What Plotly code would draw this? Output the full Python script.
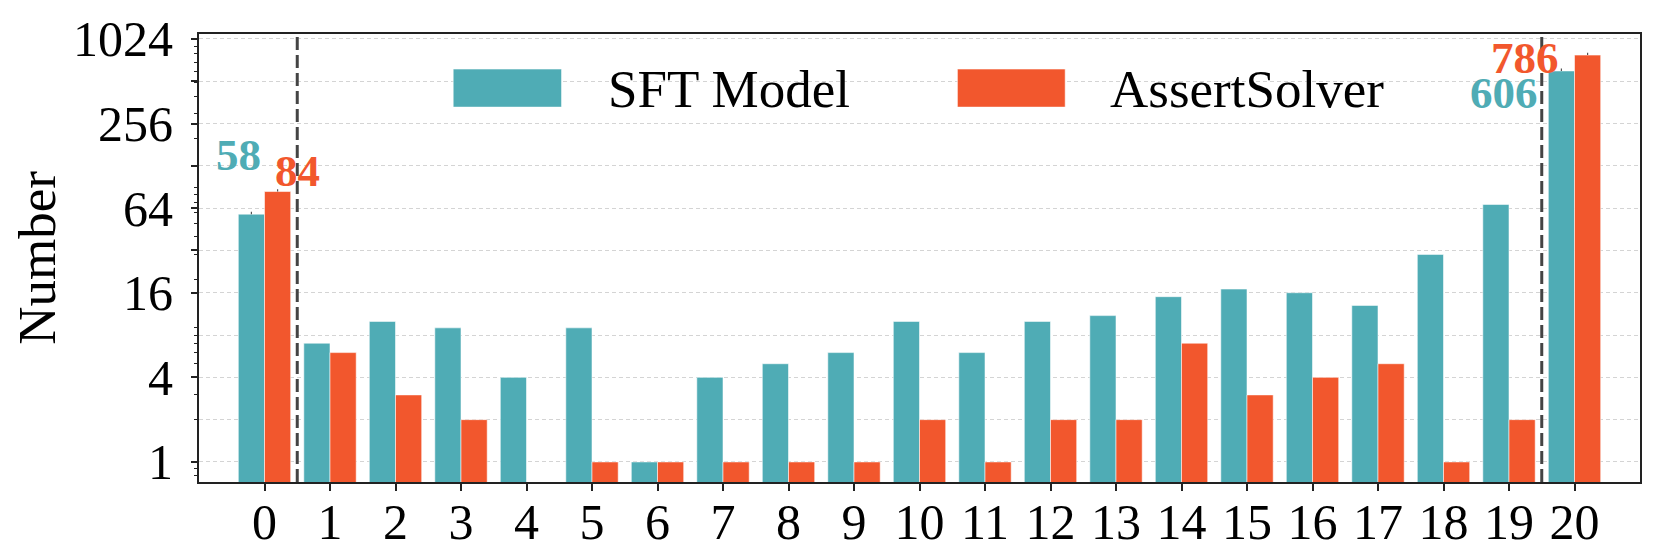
import plotly.graph_objects as go
import math

# ---- data ----
categories = list(range(21))
sft_model = [58, 7, 10, 9, 4, 9, 1, 4, 5, 6, 10, 6, 10, 11, 15, 17, 16, 13, 30, 68, 606]
assert_solver = [84, 6, 3, 2, None, 1, 1, 1, 1, 1, 2, 1, 2, 2, 7, 3, 4, 5, 1, 2, 786]
y_tick_vals = [1, 2, 4, 8, 16, 32, 64, 128, 256, 512, 1024]
y_tick_text = ["1", "", "4", "", "16", "", "64", "", "256", "", "1024"]
separators = [0.5, 19.5]
labelled_idx = [0, 20]
series_names = ["SFT Model", "AssertSolver"]

# ---- style ----
TEAL = "#4FACB5"
ORANGE = "#F2572D"
FONT = "Liberation Serif"
# label placement (x offset in categories, y multiplier of the bar value)
sft_label_style = {0: (-0.40, 2.64), 20: (-1.08, 0.70)}
as_label_style = {0: (0.51, 1.40), 20: (-0.75, 0.95)}

ymin, ymax = 0.72, 1110
minor_vals = [m * 10 ** k for k in (-1, 0, 1, 2) for m in range(2, 10)
              if ymin <= m * 10 ** k <= ymax]

def tiny_err(vals):
    return [v * 0.04 if (i in labelled_idx and v) else 0 for i, v in enumerate(vals)]

fig = go.Figure()
fig.add_trace(go.Bar(
    x=categories, y=sft_model, name=series_names[0],
    marker=dict(color=TEAL, line=dict(color="rgba(255,255,255,0.55)", width=1)),
    error_y=dict(type="data", array=tiny_err(sft_model), symmetric=False,
                 arrayminus=[0] * 21, color="#555555", thickness=1.2, width=0),
))
fig.add_trace(go.Bar(
    x=categories, y=assert_solver, name=series_names[1],
    marker=dict(color=ORANGE, line=dict(color="rgba(255,255,255,0.55)", width=1)),
    error_y=dict(type="data", array=tiny_err([v or 0 for v in assert_solver]), symmetric=False,
                 arrayminus=[0] * 21, color="#555555", thickness=1.2, width=0),
))

# value labels
for i in labelled_idx:
    dx, fy = sft_label_style[i]
    fig.add_annotation(x=categories[i] + dx, y=math.log10(sft_model[i] * fy),
                       text=f"<b>{sft_model[i]}</b>", showarrow=False,
                       xanchor="center", yanchor="middle",
                       font=dict(family=FONT, size=45, color=TEAL))
    dx, fy = as_label_style[i]
    fig.add_annotation(x=categories[i] + dx, y=math.log10(assert_solver[i] * fy),
                       text=f"<b>{assert_solver[i]}</b>", showarrow=False,
                       xanchor="center", yanchor="middle",
                       font=dict(family=FONT, size=45, color=ORANGE))

# separators
for s in separators:
    fig.add_shape(type="line", x0=s, x1=s, y0=0, y1=1, xref="x", yref="paper",
                  line=dict(color="#444444", width=3, dash="13px,5px"))

# custom legend
legend_items = [(series_names[0], TEAL, 0.1764, 0.2516, 0.2822),
                (series_names[1], ORANGE, 0.5263, 0.6011, 0.6311)]
for name, col, x0, x1, xt in legend_items:
    fig.add_shape(type="rect", xref="paper", yref="paper", x0=x0, x1=x1,
                  y0=0.8368, y1=0.9218, fillcolor=col,
                  line=dict(color="rgba(255,255,255,0.55)", width=1))
    fig.add_annotation(xref="paper", yref="paper", x=xt, y=0.8773, text=name,
                       showarrow=False, xanchor="left", yanchor="middle",
                       font=dict(family=FONT, size=53, color="black"))

# page body keeps an 8px margin, so the figure is 8px smaller on each size
fig.update_layout(
    width=1653, height=551,
    margin=dict(l=191, r=21, t=26, b=77, autoexpand=False),
    paper_bgcolor="white", plot_bgcolor="white",
    barmode="group", bargap=0.2, bargroupgap=0,
    showlegend=False,
    font=dict(family=FONT, size=50, color="black"),
)
fig.update_xaxes(
    automargin=False,
    range=[-1, 21], tickmode="array", tickvals=categories,
    ticktext=[str(c) for c in categories],
    ticks="outside", ticklen=7, tickwidth=1.5, tickcolor="#222222",
    showline=True, linecolor="#222222", linewidth=2, mirror=True,
    showgrid=False, zeroline=False, ticklabelstandoff=-12,
    tickfont=dict(family=FONT, size=50, color="black"),
)
fig.update_yaxes(
    automargin=False,
    type="log", range=[math.log10(ymin), math.log10(ymax)],
    tickmode="array", tickvals=y_tick_vals, ticktext=y_tick_text,
    ticks="outside", ticklen=6, tickwidth=1.5, tickcolor="#222222",
    showline=True, linecolor="#222222", linewidth=2, mirror=True,
    showgrid=True, gridcolor="#d4d4d4", gridwidth=1, griddash="4px,3px",
    zeroline=False, ticklabelstandoff=8,
    minor=dict(tickmode="array", tickvals=minor_vals, ticks="outside",
               ticklen=3, tickwidth=1, tickcolor="#222222", showgrid=False),
    tickfont=dict(family=FONT, size=50, color="black"),
    title=dict(text="Number", font=dict(family=FONT, size=53, color="black"), standoff=18),
)

fig.write_html("out.html")
